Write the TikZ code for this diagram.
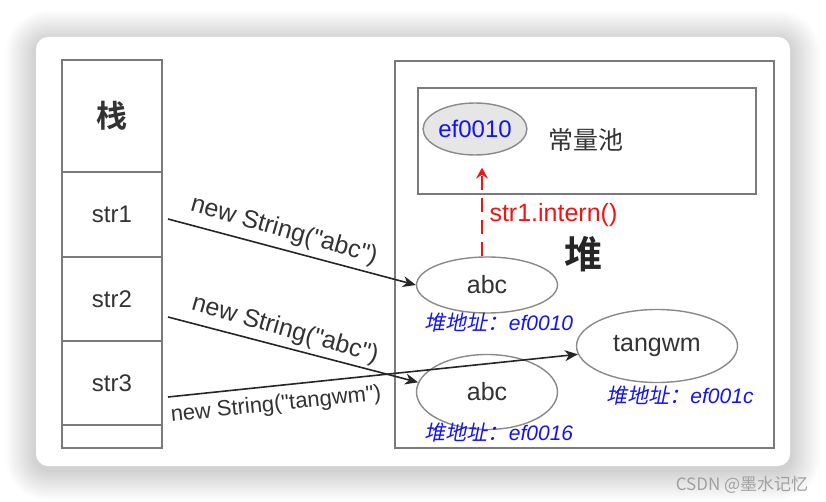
\documentclass[tikz,border=0pt]{standalone}
\usepackage{fontspec}
\setmainfont{Liberation Sans}[Ligatures=TeXOff]
\newfontfamily\cjk{Noto Sans CJK SC}
\newfontfamily\cjkb{Noto Sans CJK SC Bold}
\newfontfamily\cjks{Noto Sans CJK SC}[FakeSlant=0.2]
\usetikzlibrary{shapes.geometric,arrows.meta}
\definecolor{ln}{HTML}{7a7a7a}
\definecolor{el}{HTML}{8a8a8a}
\definecolor{pf}{HTML}{e6e6e6}
\definecolor{ab}{HTML}{1414f0}
\definecolor{ar}{HTML}{f01414}
\definecolor{tx}{HTML}{333333}
\definecolor{wm}{HTML}{a0a0a0}

\begin{document}
\begin{tikzpicture}[x=1pt,y=-1pt,
  cell/.style={draw=ln,line width=1.6pt,minimum width=100pt,inner sep=0pt,text=tx,font=\fontsize{24}{28}\selectfont},
  obj/.style={ellipse,draw=el,line width=1.4pt,inner sep=0pt,text=tx,font=\fontsize{25}{30}\selectfont},
  addr/.style={text=ab,font=\fontsize{21}{25}\selectfont},
  ref/.style={black!85,line width=1.6pt,-{Stealth[length=13pt,width=11pt,inset=4pt]}},
  lbl/.style={text=tx,font=\fontsize{25}{30}\selectfont}]
  \useasboundingbox (0,0) rectangle (826,502);
  \fill[white] (0,0) rectangle (826,502);

  % soft shadow under the card
  \foreach \i in {1,...,15}
    \fill[black,opacity=0.012,rounded corners=12+2*\i] (36-2*\i,41-2*\i) rectangle (790+2*\i,470+2*\i);
  \fill[white,rounded corners=12pt] (36,37) rectangle (790,466);

  % stack column
  \node[cell,minimum height=112pt] (st) at (112,116) {\cjkb\fontsize{31}{35}\selectfont 栈};
  \node[cell,minimum height=85pt] (s1) at (112,214.5) {str1};
  \node[cell,minimum height=84pt] (s2) at (112,299) {str2};
  \node[cell,minimum height=84pt] (s3) at (112,383) {str3};
  \node[cell,minimum height=23pt] (s4) at (112,436.5) {};

  % heap and the constant pool inside it
  \draw[ln,line width=1.4pt] (395,61) rectangle (774,448);
  \draw[ln,line width=1.4pt] (418,88) rectangle (756,194);
  \node[obj,fill=pf,minimum width=96pt,minimum height=52pt,text=ab,font=\fontsize{24}{28}\selectfont] (p1) at (475,129) {ef0010};
  \node[text=tx,font=\cjk\fontsize{25}{30}\selectfont] (pl) at (586,140) {常量池};
  \node[font=\cjkb\fontsize{38}{44}\selectfont,text=black!85] (hp) at (583,254) {堆};

  % objects on the heap
  \node[obj,minimum width=141pt,minimum height=56pt] (a1) at (487,285) {abc};
  \node[obj,minimum width=141pt,minimum height=75pt] (a2) at (487,392) {abc};
  \node[obj,minimum width=161pt,minimum height=73pt] (tw) at (657,346) {tangwm};
  \node[addr] (d1) at (499,323) {{\cjks 堆地址：}\textit{ef0010}};
  \node[addr] (d2) at (499,433) {{\cjks 堆地址：}\textit{ef0016}};
  \node[addr] (d3) at (680,396) {{\cjks 堆地址：}\textit{ef001c}};

  % intern() into the pool
  \draw[ar,line width=1.4pt,dash pattern=on 14pt off 8pt,-{Stealth[length=11pt,width=12pt,inset=4pt]}]
    ([xshift=-5pt]a1.north) -- ([xshift=7pt,yshift=-12pt]p1.south);
  \node[text=ar,anchor=west,font=\fontsize{25}{30}\selectfont] (it) at (486,215) {str1.intern()};

  % references from the stack
  \coordinate (o1) at (168,219);
  \coordinate (o2) at (168,317);
  \coordinate (o3) at (168,397);
  \draw[ref] (o1) -- (a1.west);
  \draw[ref] (o2) -- (a2.172);
  \draw[ref] (o3) -- (tw.186);
  \node[lbl,rotate=-16] (n1) at (284,231) {new String("abc")};
  \node[lbl,rotate=-16] (n2) at (285,330) {new String("abc")};
  \node[lbl,rotate=6,font=\fontsize{22}{26}\selectfont] (n3) at (276,405) {new String("tangwm")};

  \node[text=wm,font=\cjk\fontsize{17}{20}\selectfont] (wmk) at (742,485) {CSDN @墨水记忆};
\end{tikzpicture}
\end{document}
